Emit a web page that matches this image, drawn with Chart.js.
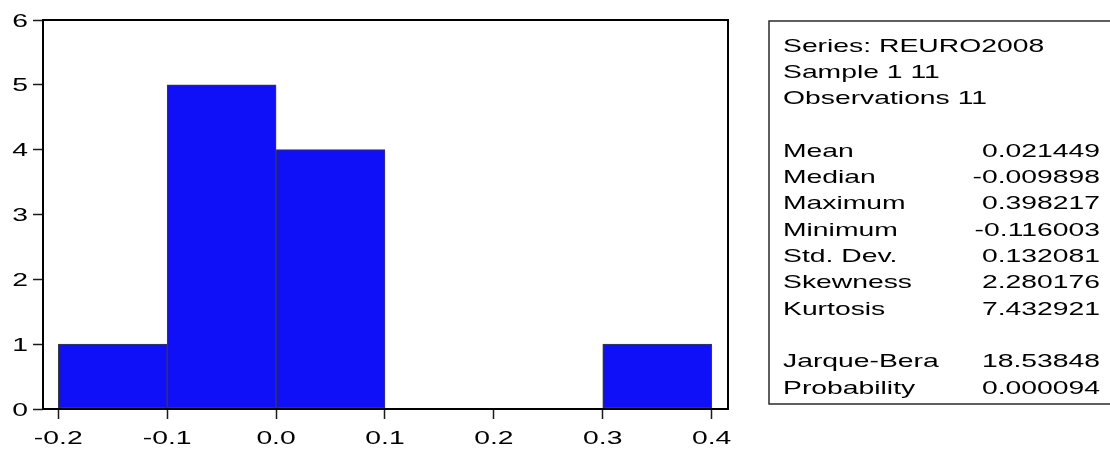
<!DOCTYPE html>
<html>
<head>
<meta charset="utf-8">
<script src="https://cdn.jsdelivr.net/npm/chart.js@4/dist/chart.umd.min.js"></script>
<style>
  html, body { margin: 0; padding: 0; background: #ffffff; }
  #wrap { width: 1110px; height: 451px; position: relative; }
</style>
</head>
<body>
<div id="wrap"><canvas id="hist" width="1110" height="451"></canvas></div>
<script>
// Histogram of REURO2008: bin edges and counts per bin
const binEdges = [-0.2, -0.1, 0.0, 0.1, 0.2, 0.3, 0.4];
const binCounts = [1, 5, 4, 0, 0, 1];

// Axis tick values
const xTickValues = [-0.2, -0.1, 0.0, 0.1, 0.2, 0.3, 0.4];
const yTickValues = [0, 1, 2, 3, 4, 5, 6];

// Descriptive statistics panel
const headerLines = ['Series: REURO2008', 'Sample 1 11', 'Observations 11'];
const statNames = ['Mean', 'Median', 'Maximum', 'Minimum', 'Std. Dev.', 'Skewness', 'Kurtosis'];
const statValues = ['0.021449', '-0.009898', '0.398217', '-0.116003', '0.132081', '2.280176', '7.432921'];
const testNames = ['Jarque-Bera', 'Probability'];
const testValues = ['18.53848', '0.000094'];

const FONT_FAMILY = '"Liberation Sans", Arial, sans-serif';
const FONT_SIZE = 18.5;
const STRETCH_X = 1.53;          // text is drawn horizontally widened
const CAP_HALF = 0.716 * FONT_SIZE / 2;

function wideText(ctx, text, x, yCenter, align) {
  ctx.save();
  ctx.translate(x, yCenter + CAP_HALF);
  ctx.scale(STRETCH_X, 1);
  ctx.font = FONT_SIZE + 'px ' + FONT_FAMILY;
  ctx.fillStyle = '#000000';
  ctx.textAlign = align;
  ctx.textBaseline = 'alphabetic';
  ctx.fillText(text, 0, 0);
  ctx.restore();
}

const barPoints = binCounts.map((c, i) => ({ x: (binEdges[i] + binEdges[i + 1]) / 2, y: c }));

// Frame around the plot, tick labels and the statistics box
const decorations = {
  id: 'decorations',
  afterDraw(chart) {
    const ctx = chart.ctx;
    const a = chart.chartArea;
    const xs = chart.scales.x;
    const ys = chart.scales.y;

    ctx.save();
    ctx.strokeStyle = '#000000';
    ctx.lineWidth = 2;
    ctx.strokeRect(a.left, a.top, a.right - a.left, a.bottom - a.top);
    ctx.restore();

    xs.ticks.forEach(t => {
      const v = Math.abs(t.value) < 1e-9 ? 0 : t.value;
      wideText(ctx, v.toFixed(1), xs.getPixelForValue(t.value), 437, 'center');
    });
    ys.ticks.forEach(t => {
      wideText(ctx, String(t.value), 28, ys.getPixelForValue(t.value), 'right');
    });

    // statistics box
    const boxLeft = 769, boxTop = 21, boxBottom = 404;
    ctx.save();
    ctx.strokeStyle = '#2a2a2a';
    ctx.lineWidth = 1.5;
    ctx.beginPath();
    ctx.moveTo(1115, boxTop);
    ctx.lineTo(boxLeft, boxTop);
    ctx.lineTo(boxLeft, boxBottom);
    ctx.lineTo(1115, boxBottom);
    ctx.stroke();
    ctx.restore();

    const textLeft = 783, textRight = 1100, firstRow = 45, rowStep = 26.3;
    let row = 0;
    headerLines.forEach(s => { wideText(ctx, s, textLeft, firstRow + row * rowStep, 'left'); row++; });
    row++;
    statNames.forEach((s, i) => {
      const y = firstRow + row * rowStep;
      wideText(ctx, s, textLeft, y, 'left');
      wideText(ctx, statValues[i], textRight, y, 'right');
      row++;
    });
    row++;
    testNames.forEach((s, i) => {
      const y = firstRow + row * rowStep;
      wideText(ctx, s, textLeft, y, 'left');
      wideText(ctx, testValues[i], textRight, y, 'right');
      row++;
    });
  }
};

new Chart(document.getElementById('hist'), {
  type: 'bar',
  data: {
    datasets: [{
      data: barPoints,
      backgroundColor: '#1010f8',
      borderColor: '#3c3c3c',
      borderWidth: binCounts.map(c => (c > 0 ? 1 : 0)),
      borderSkipped: false,
      barPercentage: 1.0,
      categoryPercentage: 1.0
    }]
  },
  options: {
    responsive: false,
    animation: false,
    events: [],
    layout: { padding: { top: 20, right: 382, left: 0, bottom: 0 } },
    plugins: { legend: { display: false }, tooltip: { enabled: false } },
    scales: {
      x: {
        type: 'linear',
        offset: false,
        min: -0.214,
        max: 0.415,
        afterBuildTicks: s => { s.ticks = xTickValues.map(v => ({ value: v })); },
        ticks: { display: false },
        grid: { offset: false, drawOnChartArea: false, drawTicks: true, tickLength: 10, tickColor: '#1a1a1a', tickWidth: 1.5 },
        border: { display: false },
        afterFit: s => { s.height = 42; }
      },
      y: {
        type: 'linear',
        min: 0,
        max: 6,
        afterBuildTicks: s => { s.ticks = yTickValues.map(v => ({ value: v })); },
        ticks: { display: false },
        grid: { drawOnChartArea: false, drawTicks: true, tickLength: 10, tickColor: '#1a1a1a', tickWidth: 1.5 },
        border: { display: false },
        afterFit: s => { s.width = 43; }
      }
    }
  },
  plugins: [decorations]
});
</script>
</body>
</html>
